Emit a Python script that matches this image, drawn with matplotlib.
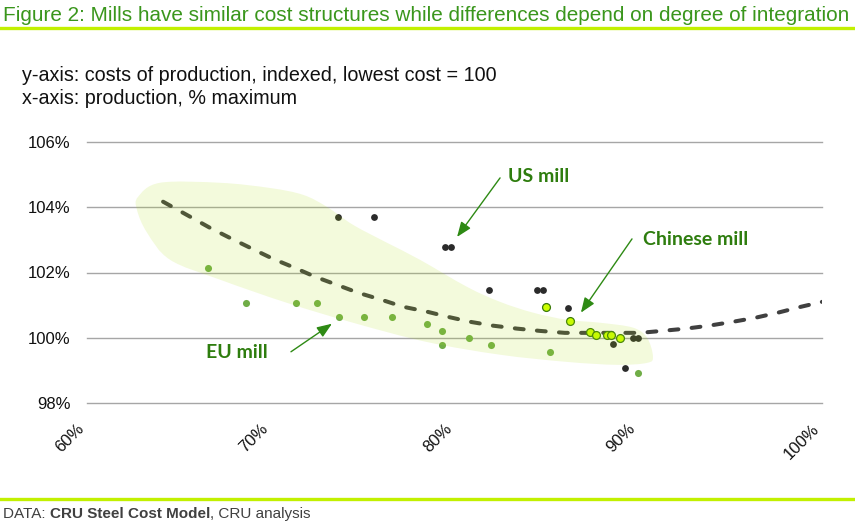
import numpy as np
import matplotlib
matplotlib.use("Agg")
import matplotlib.pyplot as plt
from matplotlib.path import Path
from matplotlib.patches import PathPatch
from matplotlib import font_manager as fm

# ---------------- data ----------------
curve_x = [64.14, 65.61, 66.69, 67.78, 68.98, 70.12, 71.32, 72.41, 73.61, 74.75,
           76.05, 77.20, 78.50, 79.65, 80.84, 82.10, 83.40, 84.65, 86.01, 87.37,
           88.63, 90.10, 91.29, 92.60, 93.85, 95.16, 96.35, 97.61, 98.86, 100.0]
curve_y = [104.17, 103.71, 103.37, 103.06, 102.73, 102.42, 102.14, 101.87, 101.62, 101.38,
           101.16, 100.95, 100.80, 100.64, 100.49, 100.37, 100.28, 100.21, 100.15, 100.15,
           100.15, 100.15, 100.21, 100.28, 100.37, 100.49, 100.61, 100.77, 100.95, 101.10]

us_x = [73.66, 75.6, 79.5, 79.8, 81.9, 84.5, 84.8, 86.2, 88.6, 89.3, 89.7, 90.0]
us_y = [103.71, 103.71, 102.79, 102.79, 101.47, 101.47, 101.47, 100.92, 99.82, 99.08, 100.0, 100.0]

eu_x = [66.6, 68.65, 71.4, 72.5, 73.7, 75.1, 76.6, 78.5, 79.3, 79.3, 80.8, 82.0, 85.2, 90.0]
eu_y = [102.14, 101.07, 101.07, 101.07, 100.64, 100.64, 100.64, 100.43, 100.21, 99.79, 100.0, 99.79, 99.57, 98.93]

cn_x = [85.0, 86.3, 87.4, 87.7, 88.3, 88.5, 89.0]
cn_y = [100.95, 100.52, 100.18, 100.09, 100.09, 100.09, 100.0]

# highlighted region outline (data units)
blob_x = [62.78, 63.97, 67.24, 69.96, 71.76, 73.06, 74.48, 76.33, 78.12, 80.68,
          82.48, 84.27, 86.12, 87.92, 89.71, 90.48, 90.80, 90.48, 88.84, 86.12,
          82.48, 78.50, 74.48, 70.88, 67.24, 64.52, 63.27, 62.72]
blob_y = [104.32, 104.75, 104.75, 104.59, 104.38, 104.01, 103.46, 102.91, 102.39, 101.56,
          101.10, 100.77, 100.55, 100.46, 100.31, 100.00, 99.42, 99.23, 99.17, 99.26,
          99.48, 99.87, 100.46, 101.07, 101.78, 102.39, 103.22, 103.92]

x_ticks = [60, 70, 80, 90, 100]
x_labels = ["60%", "70%", "80%", "90%", "100%"]
y_ticks = [98, 100, 102, 104, 106]
y_labels = ["98%", "100%", "102%", "104%", "106%"]

title = "Figure 2: Mills have similar cost structures while differences depend on degree of integration"
sub1 = "y-axis: costs of production, indexed, lowest cost = 100"
sub2 = "x-axis: production, % maximum"

# ---------------- fonts ----------------
def pick(cands):
    for c in cands:
        try:
            fm.findfont(fm.FontProperties(family=c), fallback_to_default=False)
            return c
        except Exception:
            pass
    return "DejaVu Sans"

narrow = pick(["Liberation Sans Narrow", "DejaVu Sans Condensed", "Liberation Sans"])
arial = pick(["Liberation Sans", "DejaVu Sans"])
bold_f = pick(["Lato", "Open Sans", "DejaVu Sans"])

W, H = 855, 523
fig = plt.figure(figsize=(W / 100, H / 100), dpi=100)
ax = fig.add_axes([87 / W, (H - 403) / H, 735 / W, 261 / H])

GREEN_T = "#3a961c"
GREEN_A = "#2e7d0e"
LIME = "#c2f000"

# curve
ax.plot(curve_x, curve_y, color="#404040", lw=2.9, dashes=(2.2, 3.3),
        dash_capstyle="round", zorder=3)

# points
ax.scatter(us_x, us_y, s=24, color="#2b2b2b", lw=0, zorder=4)
ax.scatter(eu_x, eu_y, s=26, color="#70ad47", lw=0, zorder=4)
ax.scatter(cn_x, cn_y, s=32, color="#ccff00", edgecolor="#3b7a0a", lw=0.9, zorder=5)

# smooth blob via Catmull-Rom -> cubic Bezier
P = np.column_stack([blob_x, blob_y])
n = len(P)
verts = [P[0]]
codes = [Path.MOVETO]
for i in range(n):
    p0, p1, p2, p3 = P[i - 1], P[i], P[(i + 1) % n], P[(i + 2) % n]
    c1 = p1 + (p2 - p0) / 6.0
    c2 = p2 - (p3 - p1) / 6.0
    verts += [c1, c2, p2]
    codes += [Path.CURVE4] * 3
patch = PathPatch(Path(verts, codes), facecolor=(175 / 255, 222 / 255, 22 / 255),
                  alpha=0.15, lw=0, zorder=6)
ax.add_patch(patch)

ax.set_xlim(60, 100)
ax.set_ylim(98, 106)
ax.set_yticks(y_ticks)
ax.set_yticklabels(y_labels, fontsize=12, family=arial, color="#111111")
ax.set_xticks(x_ticks)
ax.set_xticklabels(x_labels, fontsize=12, family=arial, color="#111111",
                   rotation=45, ha="right", va="top")
ax.tick_params(axis="both", length=0)
ax.tick_params(axis="y", pad=12)
ax.tick_params(axis="x", pad=13)
ax.grid(axis="y", color="#a6a6a6", lw=1.0, zorder=1)
ax.grid(axis="x", visible=False)
for gl in ax.get_ygridlines():
    gl.set_clip_on(False)
ax.set_axisbelow(True)
for s in ax.spines.values():
    s.set_visible(False)

# annotations
arrow = dict(arrowstyle="-|>,head_length=0.9,head_width=0.35", color="#2e8a14", lw=1.0,
             shrinkA=0, shrinkB=0)
ax.annotate("", xy=(80.14, 103.09), xytext=(82.48, 104.90), arrowprops=arrow, zorder=7)
ax.annotate("", xy=(86.88, 100.77), xytext=(89.66, 103.03), arrowprops=arrow, zorder=7)
ax.annotate("", xy=(73.33, 100.43), xytext=(71.10, 99.57), arrowprops=arrow, zorder=7)
ax.text(82.91, 104.93, "US mill", fontsize=14, fontweight="bold", family=bold_f,
        color=GREEN_A, va="center", ha="left", zorder=8)
ax.text(90.26, 103.0, "Chinese mill", fontsize=14, fontweight="bold", family=bold_f,
        color=GREEN_A, va="center", ha="left", zorder=8)
ax.text(66.48, 99.54, "EU mill", fontsize=14, fontweight="bold", family=bold_f,
        color=GREEN_A, va="center", ha="left", zorder=8)

# header / footer
def fy(py):
    return 1 - py / H

t_title = fig.text(3 / W, fy(21), title, fontsize=16, family=narrow, color=GREEN_T,
                   va="baseline", ha="left")
t_s1 = fig.text(22 / W, fy(81), sub1, fontsize=14, family=narrow, color="#111111",
                va="baseline", ha="left")
t_s2 = fig.text(22 / W, fy(104), sub2, fontsize=14, family=narrow, color="#111111",
                va="baseline", ha="left")

fig.add_artist(plt.Line2D([0, 1], [fy(27.5), fy(27.5)], color=LIME, lw=2.4,
                          transform=fig.transFigure))
fig.add_artist(plt.Line2D([0, 1], [fy(498.5), fy(498.5)], color=LIME, lw=2.4,
                          transform=fig.transFigure))

fig.canvas.draw()
r = fig.canvas.get_renderer()

def fit(t, target_w):
    w = t.get_window_extent(r).width
    t.set_fontsize(t.get_fontsize() * target_w / w)

fit(t_title, 847)
fit(t_s1, 475)
t_s2.set_fontsize(t_s1.get_fontsize())

# footer with bold middle part
parts = [("DATA: ", "normal"), ("CRU Steel Cost Model", "bold"), (", CRU analysis", "normal")]
x0 = 3
for s, wgt in parts:
    t = fig.text(x0 / W, fy(518), s, fontsize=11, family=narrow, fontweight=wgt,
                 color="#404040", va="baseline", ha="left")
    fig.canvas.draw()
    ext = t.get_window_extent(r)
    x0 = ext.x1

fig.savefig("out.png", dpi=100)
